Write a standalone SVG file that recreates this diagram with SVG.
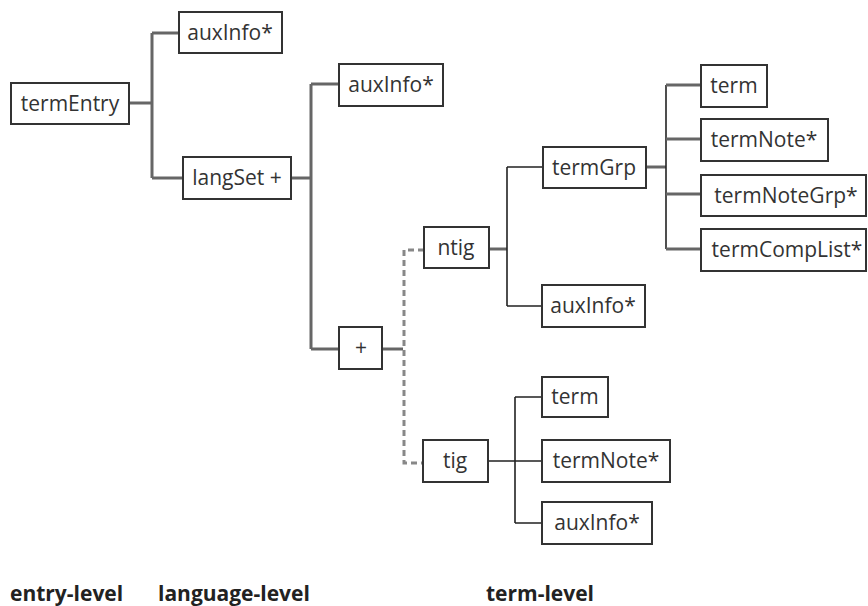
<svg xmlns="http://www.w3.org/2000/svg" width="868" height="606" viewBox="0 0 868 606">
<style>
.box{fill:#fff;stroke:#333;stroke-width:2}
.lbl{font-family:"Open Sans","Liberation Sans",sans-serif;font-size:21px;fill:#333;text-anchor:middle}
.lvl{font-family:"Open Sans","Liberation Sans",sans-serif;font-size:21px;font-weight:bold;fill:#222}
.thick{fill:none;stroke:#666;stroke-width:3}
.thin{fill:none;stroke:#222;stroke-width:1.6}
.dash{fill:none;stroke:#888;stroke-width:3;stroke-dasharray:6 4}
</style>
<rect width="868" height="606" fill="#fff"/>
<g id="connectors">
<path class="thick" d="M129,103 H152 M152,33 V178 M152,33 H179 M152,178 H183"/>
<path class="thick" d="M291,178 H311 M311,84 V349 M311,84 H339 M311,349 H339"/>
<path class="thick" d="M382,349 H403"/>
<path class="dash" d="M424,250 H404 V463 H423"/>
<path class="thick" d="M489,249 H507"/>
<path class="thin" d="M507,167 V306 M507,167 H543 M507,306 H542"/>
<path class="thick" d="M646,167 H666"/>
<path class="thin" d="M666,85 V249"/>
<path class="thick" d="M666,85 H701 M666,139 H701 M666,194 H701 M666,249 H701"/>
<path class="thin" d="M488,461 H542 M515,397 V523 M515,397 H542 M515,523 H542"/>
</g>
<g id="termEntry"><rect class="box" x="11" y="83" width="118" height="41"/><text class="lbl" x="70" y="111">termEntry</text></g>
<g id="auxInfo1"><rect class="box" x="179" y="12" width="103" height="41"/><text class="lbl" x="230" y="40">auxInfo*</text></g>
<g id="langSet"><rect class="box" x="183" y="157" width="108" height="42"/><text class="lbl" x="237" y="185">langSet +</text></g>
<g id="auxInfo2"><rect class="box" x="339" y="64" width="104" height="42"/><text class="lbl" x="391" y="92">auxInfo*</text></g>
<g id="plus"><rect class="box" x="339" y="327" width="43" height="42"/><text class="lbl" x="361" y="355">+</text></g>
<g id="ntig"><rect class="box" x="424" y="227" width="65" height="41"/><text class="lbl" x="456" y="255">ntig</text></g>
<g id="termGrp"><rect class="box" x="543" y="147" width="103" height="41"/><text class="lbl" x="594" y="175">termGrp</text></g>
<g id="auxInfo3"><rect class="box" x="542" y="285" width="103" height="42"/><text class="lbl" x="593" y="313">auxInfo*</text></g>
<g id="term1"><rect class="box" x="701" y="65" width="66" height="42"/><text class="lbl" x="734" y="93">term</text></g>
<g id="termNote1"><rect class="box" x="701" y="119" width="127" height="42"/><text class="lbl" x="764" y="147">termNote*</text></g>
<g id="termNoteGrp"><rect class="box" x="701" y="175" width="165" height="41"/><text class="lbl" x="786" y="203">termNoteGrp*</text></g>
<g id="termCompList"><rect class="box" x="701" y="229" width="165" height="42"/><text class="lbl" x="787" y="257">termCompList*</text></g>
<g id="tig"><rect class="box" x="423" y="440" width="65" height="42"/><text class="lbl" x="455" y="468">tig</text></g>
<g id="term2"><rect class="box" x="542" y="377" width="66" height="40"/><text class="lbl" x="575" y="404">term</text></g>
<g id="termNote2"><rect class="box" x="542" y="440" width="128" height="42"/><text class="lbl" x="606" y="468">termNote*</text></g>
<g id="auxInfo4"><rect class="box" x="542" y="502" width="110" height="42"/><text class="lbl" x="597" y="530">auxInfo*</text></g>
<g id="levels">
<text class="lvl" x="10" y="601">entry-level</text>
<text class="lvl" x="158" y="601">language-level</text>
<text class="lvl" x="486" y="601">term-level</text>
</g>
</svg>
